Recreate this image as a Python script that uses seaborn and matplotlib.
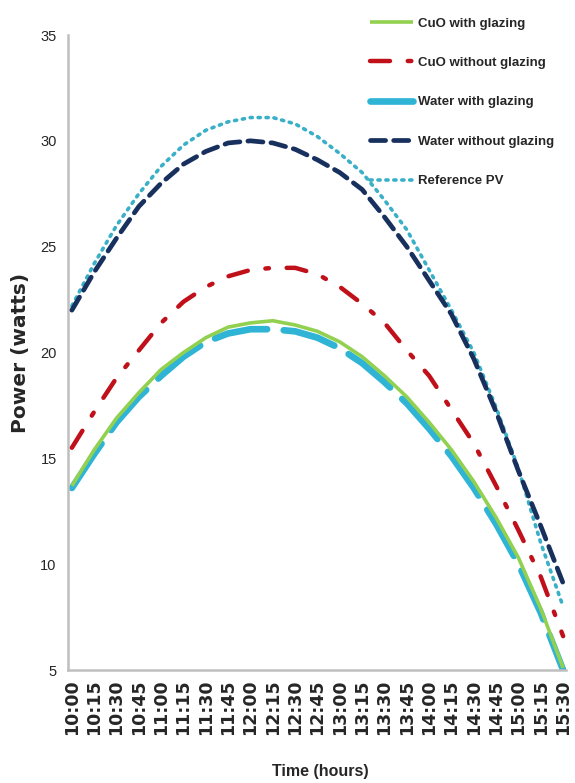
import numpy as np
import pandas as pd
import matplotlib
matplotlib.use("Agg")
import matplotlib.pyplot as plt
import seaborn as sns

# Time stamps (15-minute steps)
times = ["10:00", "10:15", "10:30", "10:45", "11:00", "11:15", "11:30", "11:45",
         "12:00", "12:15", "12:30", "12:45", "13:00", "13:15", "13:30", "13:45",
         "14:00", "14:15", "14:30", "14:45", "15:00", "15:15", "15:30"]

# Electrical power output (W)
cuo_with_glazing = [13.7, 15.4, 16.9, 18.1, 19.2, 20.0, 20.7, 21.2, 21.4, 21.5, 21.3, 21.0,
                    20.5, 19.8, 18.9, 17.9, 16.7, 15.4, 13.9, 12.2, 10.3, 7.9, 5.1]
cuo_without_glazing = [15.5, 17.2, 18.8, 20.1, 21.4, 22.4, 23.1, 23.6, 23.9, 24.0, 24.0, 23.7,
                       23.1, 22.3, 21.4, 20.1, 18.9, 17.3, 15.7, 13.7, 11.6, 9.4, 6.6]
water_with_glazing = [13.6, 15.2, 16.7, 17.9, 18.9, 19.8, 20.5, 20.9, 21.1, 21.1, 21.0, 20.7,
                      20.2, 19.5, 18.6, 17.6, 16.4, 15.1, 13.6, 11.9, 10.0, 7.7, 5.0]
water_without_glazing = [22.0, 23.8, 25.4, 26.9, 28.0, 28.9, 29.5, 29.9, 30.0, 29.9, 29.6, 29.1,
                         28.5, 27.7, 26.4, 25.0, 23.4, 21.8, 19.7, 17.2, 14.4, 11.8, 9.1]
reference_pv = [22.2, 24.2, 26.0, 27.5, 28.8, 29.8, 30.5, 30.9, 31.1, 31.1, 30.8, 30.2,
                29.4, 28.5, 27.2, 25.8, 23.9, 22.0, 20.0, 17.4, 14.5, 11.0, 8.0]

series_names = ["CuO with glazing", "CuO without glazing", "Water with glazing",
                "Water without glazing", "Reference PV"]
series_values = [cuo_with_glazing, cuo_without_glazing, water_with_glazing,
                 water_without_glazing, reference_pv]

sns.set_theme(style="white")
plt.rcParams["font.family"] = ["Liberation Sans", "DejaVu Sans"]

rows = []
for name, vals in zip(series_names, series_values):
    for i, v in enumerate(vals):
        rows.append({"idx": i, "time": times[i], "power": v, "series": name})
df = pd.DataFrame(rows)

styles = {
    "CuO with glazing": dict(color="#92D050", lw=2.6, ls="-", z=4),
    "CuO without glazing": dict(color="#C0101A", lw=3.2, ls=(0, (4.5, 4, 0.8, 4)), z=3),
    "Water with glazing": dict(color="#2FB4D6", lw=4.8, ls=(0, (8, 2.5)), z=2),
    "Water without glazing": dict(color="#17305E", lw=3.4, ls=(0, (3.2, 1.7)), z=3),
    "Reference PV": dict(color="#3AAFC8", lw=2.6, ls=(0, (0.6, 1.6)), z=2),
}

fig = plt.figure(figsize=(5.75, 7.83), dpi=100)
ax = fig.add_axes([0.118, 0.1443, 0.866, 0.8110])

for name in series_names:
    st = styles[name]
    sub = df[df["series"] == name]
    sns.lineplot(data=sub, x="idx", y="power", ax=ax, color=st["color"], lw=st["lw"],
                 linestyle=st["ls"], label=name, zorder=st["z"],
                 dash_capstyle="round", solid_capstyle="butt")

ax.set_xlim(-0.18, 22.12)
ax.set_ylim(5, 35)
ax.set_yticks([5, 10, 15, 20, 25, 30, 35])
ax.set_xticks(range(len(times)))
ax.set_xticklabels(times, rotation=90, fontsize=12.5, fontweight="bold",
                   family=["DejaVu Sans"])
ax.tick_params(axis="y", labelsize=10.5, pad=2)
ax.tick_params(axis="x", pad=1)

for side in ["top", "right"]:
    ax.spines[side].set_visible(False)
for side in ["left", "bottom"]:
    ax.spines[side].set_color("#BFBFBF")
    ax.spines[side].set_linewidth(1.8)

ax.set_xlabel("Time (hours)", fontsize=11.5, fontweight="bold")
ax.xaxis.set_label_coords(0.508, -0.148)
ax.set_ylabel("Power (watts)", fontsize=14.5, fontweight="bold", family=["DejaVu Sans"])
ax.yaxis.set_label_coords(-0.076, 0.5)

leg = ax.legend(loc="upper left", bbox_to_anchor=(0.623, 0.993),
                bbox_transform=fig.transFigure, frameon=False, fontsize=9.5,
                handlelength=3.25, handletextpad=0.38, labelspacing=2.06)
for t in leg.get_texts():
    t.set_fontweight("bold")

fig.savefig("out.png", dpi=100)
